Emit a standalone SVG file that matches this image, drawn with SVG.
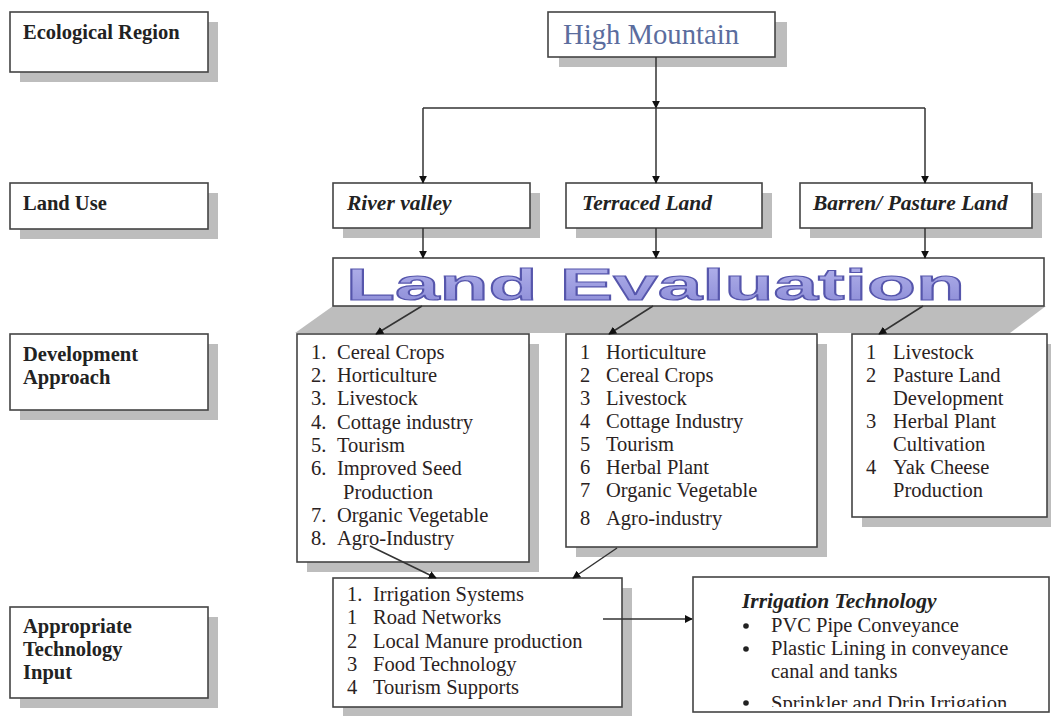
<svg xmlns="http://www.w3.org/2000/svg" width="1051" height="716" viewBox="0 0 1051 716">
<style>
.box{fill:#fff;stroke:#444;stroke-width:1.6}
.sh{fill:#bdbdbd}
.lbl{font-family:"Liberation Serif",serif;font-weight:bold;font-size:20.5px;fill:#222}
.lu{font-family:"Liberation Serif",serif;font-weight:bold;font-style:italic;font-size:21.5px;fill:#222}
.li{font-family:"Liberation Serif",serif;font-size:20.5px;fill:#2a2222}
.con{stroke:#333;stroke-width:1.5;fill:none;marker-end:url(#ah)}
.pl{stroke:#333;stroke-width:1.5;fill:none}
</style>
<defs>
<marker id="ah" viewBox="0 0 10 10" refX="9" refY="5" markerWidth="8" markerHeight="8" markerUnits="userSpaceOnUse" orient="auto">
<path d="M0,0 L10,5 L0,10 Z" fill="#111"/>
</marker>
<linearGradient id="lev" x1="0" y1="0" x2="0" y2="1">
<stop offset="0" stop-color="#b4b4ec"/>
<stop offset="1" stop-color="#8a8ad6"/>
</linearGradient>
<clipPath id="irrClip"><rect x="693" y="577" width="358" height="130"/></clipPath>
</defs>
<rect width="1051" height="716" fill="#fff"/>

<g id="ecological-region">
<rect class="sh" x="20" y="22" width="198" height="60"/>
<rect class="box" x="10" y="12" width="198" height="60"/>
<text class="lbl" x="23" y="39">Ecological Region</text>
</g>
<g id="land-use-label">
<rect class="sh" x="20" y="193" width="198" height="46"/>
<rect class="box" x="10" y="183" width="198" height="46"/>
<text class="lbl" x="23" y="210">Land Use</text>
</g>
<g id="development-approach-label">
<rect class="sh" x="20" y="344" width="198" height="76"/>
<rect class="box" x="10" y="334" width="198" height="76"/>
<text class="lbl" x="23" y="361">Development</text>
<text class="lbl" x="23" y="384">Approach</text>
</g>
<g id="appropriate-technology-label">
<rect class="sh" x="20" y="617" width="198" height="91"/>
<rect class="box" x="10" y="607" width="198" height="91"/>
<text class="lbl" x="23" y="633">Appropriate</text>
<text class="lbl" x="23" y="656">Technology</text>
<text class="lbl" x="23" y="679">Input</text>
</g>

<g id="high-mountain">
<rect class="sh" x="559" y="22" width="228" height="45"/>
<rect class="box" x="548" y="12" width="227" height="45"/>
<text x="563" y="44" font-family="Liberation Serif,serif" font-size="29" fill="#5b6d9e" textLength="176" lengthAdjust="spacingAndGlyphs">High Mountain</text>
</g>

<g id="river-valley">
<rect class="sh" x="343" y="193" width="197" height="45"/>
<rect class="box" x="333" y="183" width="197" height="45"/>
<text class="lu" x="347" y="210">River valley</text>
</g>
<g id="terraced-land">
<rect class="sh" x="576" y="193" width="196" height="45"/>
<rect class="box" x="566" y="183" width="196" height="45"/>
<text class="lu" x="582" y="210">Terraced Land</text>
</g>
<g id="barren-pasture-land">
<rect class="sh" x="810" y="193" width="232" height="45"/>
<rect class="box" x="800" y="183" width="232" height="45"/>
<text class="lu" x="813" y="210">Barren/ Pasture Land</text>
</g>

<g id="land-evaluation">
<polygon class="sh" points="333,306 1046,306 1010,333 295,333"/>
<rect class="box" x="333" y="258" width="711" height="48"/>
<text x="346" y="300" font-family="Liberation Sans,Arial,sans-serif" font-weight="bold" font-size="44" fill="url(#lev)" stroke="#5656ac" stroke-width="1.2" textLength="619" lengthAdjust="spacingAndGlyphs">Land Evaluation</text>
</g>

<g id="dev-river-valley">
<rect class="sh" x="307" y="344" width="232" height="228"/>
<rect class="box" x="297" y="334" width="232" height="228"/>
<g class="li">
<text x="311" y="359">1.</text><text x="337" y="359">Cereal Crops</text>
<text x="311" y="382">2.</text><text x="337" y="382">Horticulture</text>
<text x="311" y="405">3.</text><text x="337" y="405">Livestock</text>
<text x="311" y="429">4.</text><text x="337" y="429">Cottage industry</text>
<text x="311" y="452">5.</text><text x="337" y="452">Tourism</text>
<text x="311" y="475">6.</text><text x="337" y="475">Improved Seed</text>
<text x="343" y="499">Production</text>
<text x="311" y="522">7.</text><text x="337" y="522">Organic Vegetable</text>
<text x="311" y="545">8.</text><text x="337" y="545">Agro-Industry</text>
</g>
</g>

<g id="dev-terraced-land">
<rect class="sh" x="576" y="344" width="251" height="213"/>
<rect class="box" x="566" y="334" width="251" height="213"/>
<g class="li">
<text x="580" y="359">1</text><text x="606" y="359">Horticulture</text>
<text x="580" y="382">2</text><text x="606" y="382">Cereal Crops</text>
<text x="580" y="405">3</text><text x="606" y="405">Livestock</text>
<text x="580" y="428">4</text><text x="606" y="428">Cottage Industry</text>
<text x="580" y="451">5</text><text x="606" y="451">Tourism</text>
<text x="580" y="474">6</text><text x="606" y="474">Herbal Plant</text>
<text x="580" y="497">7</text><text x="606" y="497">Organic Vegetable</text>
<text x="580" y="525">8</text><text x="606" y="525">Agro-industry</text>
</g>
</g>

<g id="dev-barren-land">
<rect class="sh" x="862" y="344" width="195" height="183"/>
<rect class="box" x="852" y="334" width="195" height="183"/>
<g class="li">
<text x="866" y="359">1</text><text x="893" y="359">Livestock</text>
<text x="866" y="382">2</text><text x="893" y="382">Pasture Land</text>
<text x="893" y="405">Development</text>
<text x="866" y="428">3</text><text x="893" y="428">Herbal Plant</text>
<text x="893" y="451">Cultivation</text>
<text x="866" y="474">4</text><text x="893" y="474">Yak Cheese</text>
<text x="893" y="497">Production</text>
</g>
</g>

<g id="technology-input">
<rect class="sh" x="343" y="588" width="289" height="129"/>
<rect class="box" x="333" y="578" width="289" height="129"/>
<g class="li">
<text x="347" y="601">1.</text><text x="373" y="601">Irrigation Systems</text>
<text x="347" y="624">1</text><text x="373" y="624">Road Networks</text>
<text x="347" y="648">2</text><text x="373" y="648">Local Manure production</text>
<text x="347" y="671">3</text><text x="373" y="671">Food Technology</text>
<text x="347" y="694">4</text><text x="373" y="694">Tourism Supports</text>
</g>
</g>

<g id="irrigation-technology">
<rect class="box" x="693" y="577" width="356" height="135"/>
<text x="742" y="608" font-family="Liberation Serif,serif" font-weight="bold" font-style="italic" font-size="21.5" fill="#222">Irrigation  Technology</text>
<g class="li" clip-path="url(#irrClip)">
<circle cx="746" cy="626" r="2.8" fill="#222"/><text x="771" y="632">PVC Pipe Conveyance</text>
<circle cx="746" cy="649" r="2.8" fill="#222"/><text x="771" y="655">Plastic Lining in conveyance</text>
<text x="771" y="678">canal and tanks</text>
<circle cx="746" cy="703" r="2.8" fill="#222"/><text x="771" y="710">Sprinkler and Drip Irrigation</text>
</g>
</g>

<g id="connectors">
<line class="con" x1="656" y1="57" x2="656" y2="108"/>
<line class="pl" x1="423" y1="108" x2="925" y2="108"/>
<line class="con" x1="423" y1="108" x2="423" y2="183"/>
<line class="con" x1="656" y1="108" x2="656" y2="183"/>
<line class="con" x1="925" y1="108" x2="925" y2="183"/>
<line class="con" x1="423" y1="228" x2="423" y2="258"/>
<line class="con" x1="656" y1="228" x2="656" y2="258"/>
<line class="con" x1="925" y1="228" x2="925" y2="258"/>
<line class="con" x1="422" y1="306" x2="376" y2="334"/>
<line class="con" x1="653" y1="306" x2="609" y2="334"/>
<line class="con" x1="923" y1="306" x2="879" y2="334"/>
<line class="con" x1="370" y1="546" x2="436" y2="578"/>
<line class="con" x1="617" y1="548" x2="573" y2="578"/>
<line class="con" x1="603" y1="619" x2="692" y2="619"/>
</g>
</svg>
